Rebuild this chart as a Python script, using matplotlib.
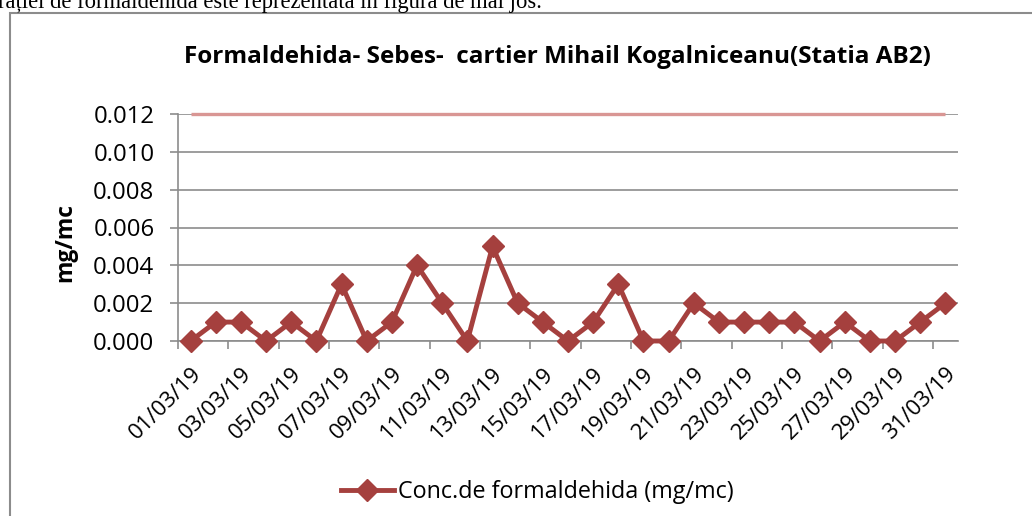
import matplotlib
matplotlib.use("Agg")
import matplotlib.pyplot as plt
from matplotlib.patches import Rectangle
import numpy as np

days = [f"{d:02d}/03/19" for d in range(1, 32)]
conc = [0.000, 0.001, 0.001, 0.000, 0.001, 0.000, 0.003, 0.000, 0.001, 0.004,
        0.002, 0.000, 0.005, 0.002, 0.001, 0.000, 0.001, 0.003, 0.000, 0.000,
        0.002, 0.001, 0.001, 0.001, 0.001, 0.000, 0.001, 0.000, 0.000, 0.001,
        0.002]
limit = [0.012] * 31
yticks = [0.000, 0.002, 0.004, 0.006, 0.008, 0.010, 0.012]

plt.rcParams['font.family'] = ['Open Sans', 'DejaVu Sans']

W, H = 1032, 516
fig = plt.figure(figsize=(W / 100, H / 100), dpi=100)

def fx(x):
    return x / W

def fy(y):
    return 1 - y / H

# plot area
left, right, top, bottom = 178, 958, 114, 341
ax = fig.add_axes([fx(left), fy(bottom), fx(right - left), (bottom - top) / H])

x = np.arange(len(days))
line_col = '#A5403E'
ax.plot(x, limit, color='#D99694', lw=2.4, solid_capstyle='butt', zorder=3,
        clip_on=False)
ax.plot(x, conc, color=line_col, lw=3.5, marker='D', ms=11, mfc=line_col,
        mec=line_col, zorder=4, clip_on=False, label='Conc.de formaldehida (mg/mc)')

ax.set_xlim(-0.5, len(days) - 0.5)
ax.set_ylim(0, 0.012)
ax.set_yticks(yticks)
ax.set_yticklabels([f"{v:.3f}" for v in yticks], fontsize=17.3)
ax.yaxis.grid(True, color='#8C8C8C', lw=1.2)
ax.set_axisbelow(True)

# category boundaries as ticks every 2 categories, labels on odd days
ax.set_xticks(np.arange(-0.5, len(days), 2))
ax.set_xticklabels([])
ax.set_xticks(np.arange(0, len(days), 2), minor=True)
ax.set_xticklabels(days[::2], minor=True, rotation=45, ha='right',
                   rotation_mode='anchor', fontsize=16)
ax.tick_params(axis='x', which='minor', length=0, pad=16)
ax.tick_params(axis='x', which='major', length=6, color='#8C8C8C', width=1.2)
ax.tick_params(axis='y', length=6, color='#8C8C8C', width=1.2, pad=11)

for s in ['top', 'right']:
    ax.spines[s].set_visible(False)
for s in ['left', 'bottom']:
    ax.spines[s].set_color('#8C8C8C')
    ax.spines[s].set_linewidth(1.2)

fig.text(fx(65), fy(242), 'mg/mc', rotation=90, ha='center', va='center',
         fontsize=16.5, fontweight='bold')

fig.text(fx(557), fy(57), 'Formaldehida- Sebes-  cartier Mihail Kogalniceanu(Statia AB2)',
         ha='center', va='center', fontsize=17.5, fontweight='bold')

leg = fig.legend(loc='center', bbox_to_anchor=(fx(537), fy(492)), frameon=False,
                 fontsize=16.8, handlelength=2.3, handletextpad=0.15)

# chart border
fig.patches.append(Rectangle((fx(10), fy(H + 20)), fx(W), (H + 20 - 13) / H,
                             transform=fig.transFigure, fill=False,
                             edgecolor='#8C8C8C', lw=1.5, clip_on=False))

# cut-off document text at top
fig.text(fx(-2), fy(8), 'rației de formaldehida este reprezentata in figura de mai jos.',
         ha='left', va='baseline', fontsize=16.3, family='Liberation Serif')

fig.savefig('out.png', dpi=100)
